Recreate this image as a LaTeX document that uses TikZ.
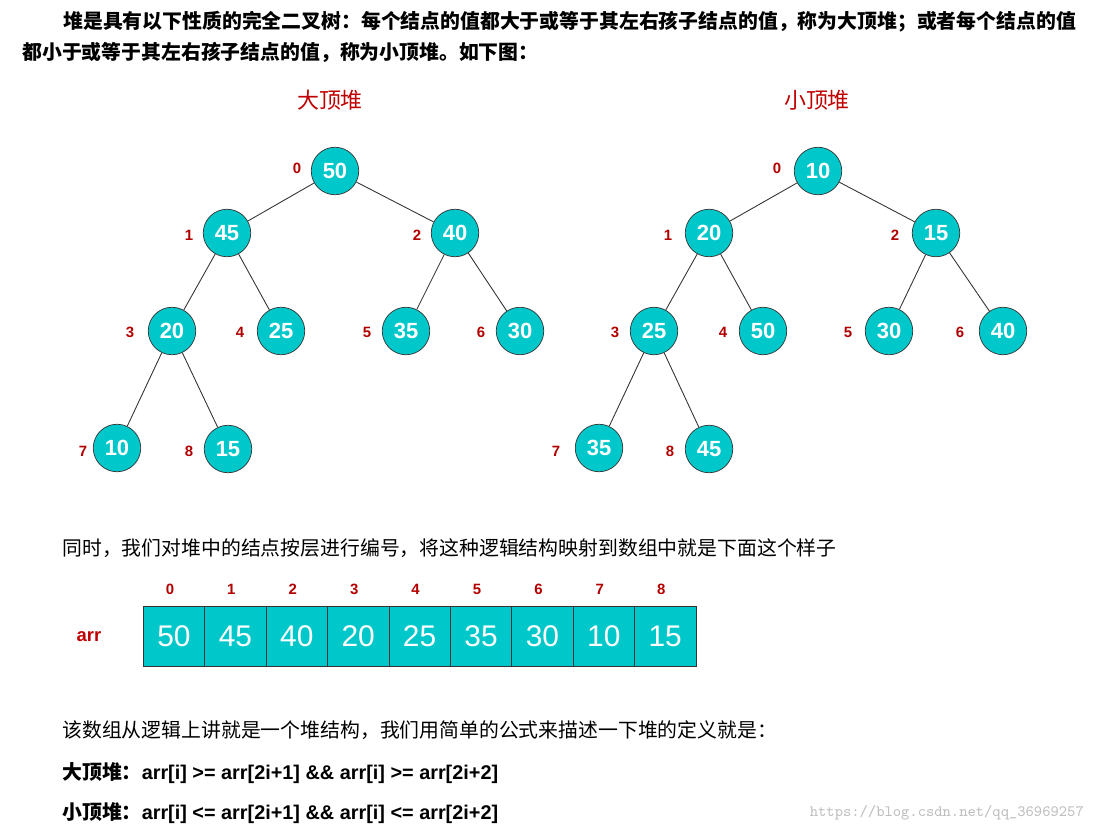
\documentclass[tikz,border=0pt]{standalone}
\usepackage{fontspec}
\setmainfont{Liberation Sans}
\newfontfamily\cjk{Noto Sans CJK SC}
\begin{document}
\begin{tikzpicture}[x=0.02cm,y=-0.02cm,
  hn/.style={circle,draw=black!80,fill=cyan!75!teal!85!white,minimum size=0.95cm,inner sep=0pt,text=white,font=\fontsize{12.5}{12.5}\selectfont\bfseries},
  ix/.style={text=red!70!black,font=\fontsize{8.5}{8.5}\selectfont\bfseries},
  cell/.style={draw=black!80,fill=cyan!75!teal!85!white,minimum width=1.228cm,minimum height=1.2cm,inner sep=0pt,text=white,font=\fontsize{17}{17}\selectfont},
  tx/.style={anchor=west,inner sep=0pt,font=\cjk\fontsize{11.3}{11.3}\selectfont},
  ed/.style={draw=black!80,line width=0.5pt}]
\useasboundingbox (0,0) rectangle (1099,834);
\definecolor{hc}{HTML}{00C8CA}
\tikzset{hn/.append style={fill=hc},cell/.append style={fill=hc}}
\node[tx,font=\cjk\bfseries\fontsize{11.3}{11.3}\selectfont] (h1) at (63,22) {堆是具有以下性质的完全二叉树：每个结点的值都大于或等于其左右孩子结点的值，称为大顶堆；或者每个结点的值};
\node[tx,font=\cjk\bfseries\fontsize{11.3}{11.3}\selectfont] (h2) at (22,52) {都小于或等于其左右孩子结点的值，称为小顶堆。如下图：};
\node[text=red!75!black,font=\cjk\fontsize{12.5}{12.5}\selectfont] (t1) at (330,100) {大顶堆};
\node[text=red!75!black,font=\cjk\fontsize{12.5}{12.5}\selectfont] (t2) at (817,100) {小顶堆};
% big heap
\foreach \n/\x/\y/\v/\lx in {a0/335/171/50/297,a1/227/233/45/189,a2/455/233/40/417,a3/172/331/20/130,a4/281/331/25/240,a5/406/331/35/367,a6/520/331/30/481,a7/117/448/10/83,a8/228/449/15/189,
 b0/818/171/10/777,b1/709/233/20/668,b2/936/233/15/895,b3/654/331/25/615,b4/763/331/50/723,b5/889/331/30/848,b6/1003/331/40/960,b7/599/448/35/556,b8/709/449/45/670}
 {\node[hn] (\n) at (\x,\y) {\v};}
\foreach \n/\lx/\ly/\i in {la0/297/168/0,la1/189/235/1,la2/417/235/2,la3/130/332/3,la4/240/332/4,la5/367/332/5,la6/481/332/6,la7/83/451/7,la8/189/451/8,
 lb0/777/168/0,lb1/668/235/1,lb2/895/235/2,lb3/615/332/3,lb4/723/332/4,lb5/848/332/5,lb6/960/332/6,lb7/556/451/7,lb8/670/451/8}
 {\node[ix] (\n) at (\lx,\ly) {\i};}
\foreach \p/\c in {a0/a1,a0/a2,a1/a3,a1/a4,a2/a5,a2/a6,a3/a7,a3/a8,b0/b1,b0/b2,b1/b3,b1/b4,b2/b5,b2/b6,b3/b7,b3/b8}
 {\draw[ed] (\p) -- (\c);}
\node[tx] (s1) at (62,548) {同时，我们对堆中的结点按层进行编号，将这种逻辑结构映射到数组中就是下面这个样子};
\node[text=red!75!black,font=\fontsize{10.5}{10.5}\selectfont\bfseries] (arr) at (89,637) {arr};
\foreach \i/\v in {0/50,1/45,2/40,3/20,4/25,5/35,6/30,7/10,8/15}{
  \node[cell] (c\i) at ({174+\i*61.4},636) {\v};
  \node[ix] (ci\i) at ({170+\i*61.4},589) {\i};}
\node[tx] (s2) at (62,730) {该数组从逻辑上讲就是一个堆结构，我们用简单的公式来描述一下堆的定义就是：};
\node[tx,font=\bfseries\fontsize{11.3}{11.3}\selectfont] (f1) at (62,773) {{\cjk\bfseries 大顶堆：}arr[i] >= arr[2i+1] \&\& arr[i] >= arr[2i+2]};
\node[tx,font=\bfseries\fontsize{11.3}{11.3}\selectfont] (f2) at (62,813) {{\cjk\bfseries 小顶堆：}arr[i] <= arr[2i+1] \&\& arr[i] <= arr[2i+2]};
\node[anchor=east,text=black!25,font=\ttfamily\fontsize{9}{9}\selectfont] (wm) at (1090,813) {https://blog.csdn.net/qq\_36969257};
\end{tikzpicture}
\end{document}
